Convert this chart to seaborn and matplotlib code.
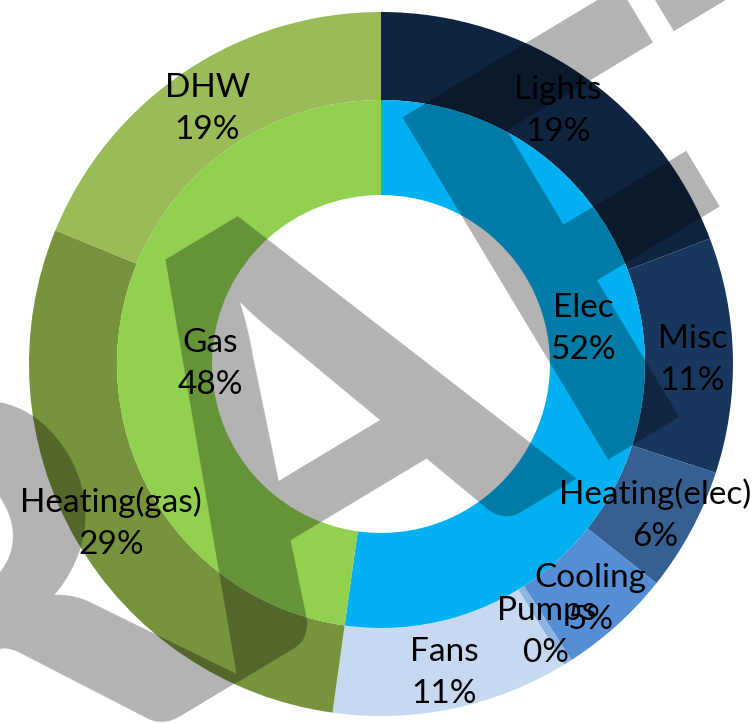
import matplotlib
matplotlib.use("Agg")
import matplotlib.pyplot as plt
import numpy as np
import seaborn as sns

# Energy split by fuel (inner ring) and by end use (outer ring), percent of total
fuel_labels = ["Elec", "Gas"]
fuel_values = [52.2, 47.8]
fuel_colors = ["#00B0F0", "#92D050"]

use_labels = ["Lights", "Misc", "Heating(elec)", "Cooling", "Pumps", "Fans",
              "Heating(gas)", "DHW"]
use_values = [19.2, 10.8, 5.7, 5.2, 0.4, 10.9, 29.0, 18.8]
use_colors = ["#0F243E", "#17375E", "#366092", "#558ED5", "#8DB4E2", "#C6D9F1",
              "#77933C", "#9BBB59"]

sns.set_theme(style="white")
plt.rcParams["font.family"] = ["Lato", "DejaVu Sans"]

W, H, DPI = 756, 723, 100
fig = plt.figure(figsize=(W / DPI, H / DPI), dpi=DPI)
ax = fig.add_axes([0, 0, 1, 1])

# chart centre and outer radius in pixels
cx, cy, R = 381, 364, 352

r_mid, r_hole = 0.75, 0.48
ax.pie(use_values, radius=1.0, colors=use_colors, startangle=90, counterclock=False,
       wedgeprops=dict(width=1.0 - r_mid, linewidth=0))
ax.pie(fuel_values, radius=r_mid, colors=fuel_colors, startangle=90, counterclock=False,
       wedgeprops=dict(width=r_mid - r_hole, linewidth=0))
ax.set_xlim(-cx / R, (W - cx) / R)
ax.set_ylim(-(H - cy) / R, cy / R)
ax.set_aspect("auto")
ax.axis("off")

label_kw = dict(ha="center", va="center", fontsize=24, color="black",
                linespacing=1.5, zorder=5)

# outer ring labels sit in the middle of each wedge
total = sum(use_values)
cum = 0.0
for name, v in zip(use_labels, use_values):
    mid = (cum + v / 2) / total * 2 * np.pi
    cum += v
    r = 0.885
    ax.text(r * np.sin(mid), r * np.cos(mid) - 0.01,
            f"{name}\n{round(v / total * 100):.0f}%", **label_kw)

# inner ring labels, nudged toward the hole
fuel_pos = {"Elec": (0.574, 0.100), "Gas": (-0.486, 0.0)}
ftotal = sum(fuel_values)
for name, v in zip(fuel_labels, fuel_values):
    x, y = fuel_pos[name]
    ax.text(x, y, f"{name}\n{round(v / ftotal * 100):.0f}%", **label_kw)

# diagonal DRAFT watermark
fig.text(345 / W, 1 - 592 / H, "DRAFT", fontsize=395, fontweight="black",
         family="Lato", color="black", alpha=0.3, rotation=31,
         rotation_mode="anchor", ha="center", va="baseline", zorder=10)

fig.savefig("out.png", dpi=DPI)
